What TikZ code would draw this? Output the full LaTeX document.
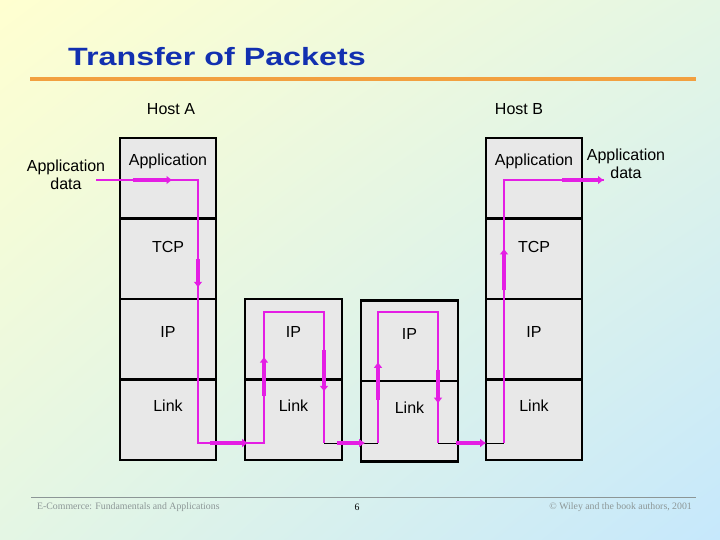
\documentclass[tikz,border=0pt]{standalone}
\usepackage{fontspec}
\setmainfont{Liberation Sans}
\newfontfamily\footfont{Liberation Serif}
\usetikzlibrary{arrows.meta,calc,shadings}

\definecolor{bgyellow}{RGB}{255,255,208}
\definecolor{bgmid}{RGB}{228,246,228}
\definecolor{bgblue}{RGB}{198,232,252}
\definecolor{titleblue}{RGB}{18,48,176}
\definecolor{ruleorange}{RGB}{242,160,64}
\definecolor{boxgray}{RGB}{232,232,232}
\definecolor{pktpink}{RGB}{228,30,228}
\definecolor{footgray}{RGB}{140,150,150}

\begin{document}
\begin{tikzpicture}[x=1pt, y=-1pt]
	\tikzstyle{layer}=[draw, line width=2.8pt, fill=boxgray]
	\tikzstyle{pkt}=[draw=pktpink, line width=2.4pt, line join=miter]
	\tikzstyle{wire}=[draw, line width=0.8pt]
	\tikzstyle{arrow}=[draw=pktpink, line width=3.6pt, -{Latex[length=6pt,width=9pt]}]
	\tikzstyle{txt}=[font=\fontsize{16}{18.5}\selectfont, inner sep=0pt]
	\newcommand\RowH{80.5}
	\newcommand\YTop{138}

	% background and title
	\shade [upper left=bgyellow, upper right=bgmid, lower left=bgmid, lower right=bgblue] (0,0) rectangle (720,540);
	\node [anchor=west, inner sep=0pt, text=titleblue, font=\fontsize{25}{30}\bfseries] (title) at (68,57) {\scalebox{1.29}[1]{Transfer of Packets}};
	\draw [ruleorange, line width=4.5pt] (30,79) -- (696,79);

	\node [txt] (hostA) at (171,109) {Host A};
	\node [txt] (hostB) at (519,109) {Host B};

	% the two hosts
\foreach \x/\h in {120/A, 486/B}
{
	\foreach \r/\name/\up in {0/Application/17, 1/TCP/12, 2/IP/7, 3/Link/14}
	{
			\pgfmathsetmacro{\YS}{\YTop + \r * \RowH};
			\draw [layer] (\x,\YS) rectangle (\x+96,\YS+\RowH) node [midway, txt, yshift=\up pt] (\h\r) {\name};
	}
}

	% the two routers
\foreach \x/\h/\dy in {245/R/0, 361/S/1.5}
{
	\foreach \r/\name/\up in {2/IP/7, 3/Link/14}
	{
			\pgfmathsetmacro{\YS}{\YTop + \r * \RowH + \dy};
			\draw [layer] (\x,\YS) rectangle (\x+97,\YS+\RowH) node [midway, txt, yshift=\up pt] (\h\r) {\name};
	}
}

	\node [txt, align=center] (dataA) at (66,175) {Application\\data};
	\node [txt, align=center] (dataB) at (626,164) {Application\\data};

	% packet route
	\coordinate (aIn) at (96,180);
	\coordinate (aTop) at (198,180);
	\coordinate (aBot) at (198,443);
	\coordinate (rL) at (264,443);
	\coordinate (rLT) at (264,312);
	\coordinate (rRT) at (324,312);
	\coordinate (rR) at (324,443);
	\coordinate (sL) at (378,443);
	\coordinate (sLT) at (378,312);
	\coordinate (sRT) at (438,312);
	\coordinate (sR) at (438,443);
	\coordinate (bBot) at (504,443);
	\coordinate (bTop) at (504,180);
	\coordinate (bOut) at (604,180);

	\path [pkt] (aIn) -- (aTop) -- (aBot) -- (rL) -- (rLT) -- (rRT) -- (rR);
	\path [pkt] (sL) -- (sLT) -- (sRT) -- (sR);
	\path [pkt] (bBot) -- (bTop) -- (bOut);
	\path [wire] (rR) -- (sL);
	\path [wire] (sR) -- (bBot);

	\path [arrow] ($(aIn)!0.36!(aTop)$) -- ($(aIn)!0.75!(aTop)$);
	\path [arrow] ($(aTop)!0.30!(aBot)$) -- ($(aTop)!0.41!(aBot)$);
	\path [arrow] ($(aBot)!0.18!(rL)$) -- ($(aBot)!0.76!(rL)$);
	\path [arrow] ($(rL)!0.36!(rLT)$) -- ($(rL)!0.66!(rLT)$);
	\path [arrow] ($(rRT)!0.29!(rR)$) -- ($(rRT)!0.61!(rR)$);
	\path [arrow] ($(rR)!0.24!(sL)$) -- ($(rR)!0.76!(sL)$);
	\path [arrow] ($(sL)!0.33!(sLT)$) -- ($(sL)!0.62!(sLT)$);
	\path [arrow] ($(sRT)!0.44!(sR)$) -- ($(sRT)!0.70!(sR)$);
	\path [arrow] ($(sR)!0.27!(bBot)$) -- ($(sR)!0.73!(bBot)$);
	\path [arrow] ($(bBot)!0.58!(bTop)$) -- ($(bBot)!0.74!(bTop)$);
	\path [arrow] ($(bTop)!0.58!(bOut)$) -- (bOut);

	% footer
	\draw [footgray, line width=0.8pt] (31,497) -- (696,497);
	\node [anchor=west, inner sep=0pt, text=footgray, font=\footfont\fontsize{9.8}{11}\selectfont] (footL) at (37,507) {E-Commerce: Fundamentals and Applications};
	\node [inner sep=0pt, font=\footfont\fontsize{9.8}{11}\selectfont] (page) at (357,507) {6};
	\node [anchor=east, inner sep=0pt, text=footgray, font=\footfont\fontsize{9.8}{11}\selectfont] (footR) at (692,507) {\textcopyright\ Wiley and the book authors, 2001};
\end{tikzpicture}
\end{document}
